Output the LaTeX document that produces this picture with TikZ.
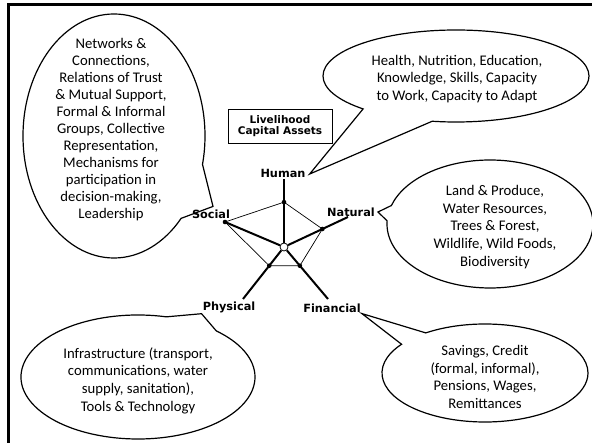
\documentclass[tikz,border=0pt]{standalone}
\usepackage{fontspec}
\setmainfont{Carlito}
\newfontfamily\capfont{DejaVu Sans}
\usetikzlibrary{positioning,shapes.callouts,calc}

\tikzset{
  bubble/.style={ellipse callout, draw=black, line width=1.2pt, inner sep=0pt},
  bubtext/.style={align=center, inner sep=0pt, font=\fontsize{14.7}{17.6}\selectfont},
  capital/.style={inner sep=1pt, font=\capfont\bfseries\fontsize{11.3}{13}\selectfont},
  axis/.style={line width=2pt},
  web/.style={line width=0.7pt},
  dot/.style={circle, fill=black, inner sep=0pt, minimum size=4.6pt},
}

\begin{document}
\begin{tikzpicture}[x=1pt,y=-1pt]
    \useasboundingbox (0,0) rectangle (592,443);

    % Frame
    \draw[line width=3pt] (8,460) -- (8,5) -- (610,5);

    % Title box
    \node[draw, line width=0.8pt, minimum width=104pt, minimum height=34pt, align=center,
          font=\capfont\bfseries\fontsize{10.5}{11.7}\selectfont] (assets) at (280,126)
          {Livelihood\\Capital Assets};

    % Capital labels
    \node[capital] (human) at (283,173) {Human};
    \node[capital] (natural) at (351,212) {Natural};
    \node[capital] (financial) at (332,308) {Financial};
    \node[capital] (physical) at (229,307) {Physical};
    \node[capital] (social) at (211,214) {Social};

    % Pentagon axes
    \node[circle, draw, line width=0.8pt, fill=white, inner sep=0pt, minimum size=8pt] (hub) at (284,247) {};
    \coordinate (humanend) at (284,179);
    \coordinate (naturalend) at (348,217);
    \coordinate (financialend) at (328,299);
    \coordinate (physicalend) at (243,299);
    \coordinate (socialend) at (225,222);

    % Asset values
    \node[dot] (dh) at ($(hub)!.66!(humanend)$) {};
    \node[dot] (dn) at ($(hub)!.60!(naturalend)$) {};
    \node[dot] (df) at ($(hub)!.36!(financialend)$) {};
    \node[dot] (dp) at ($(hub)!.36!(physicalend)$) {};
    \node[dot] (ds) at (socialend) {};
    \draw[web] (dh.center) -- (dn.center) -- (df.center) -- (dp.center) -- (ds.center) -- cycle;

    \foreach \e in {humanend,naturalend,financialend,physicalend,socialend}
        \draw[axis] (hub) -- (\e);

    % Social
    \node[bubble, minimum width=182pt, minimum height=244pt, callout pointer arc=29,
          callout absolute pointer={($(social.north)+(2,-2)$)}] (socialbub) at (114,136) {};
    \node[bubtext, font=\fontsize{14.7}{17}\selectfont] (socialtext) at (111,129.5)
          {Networks \&\\Connections,\\Relations of Trust\\\& Mutual Support,\\Formal \& Informal\\Groups, Collective\\Representation,\\Mechanisms for\\participation in\\decision-making,\\Leadership};

    % Human
    \node[bubble, minimum width=266pt, minimum height=92pt, callout pointer arc=34,
          callout absolute pointer={($(human.east)+(3,1)$)}] (humanbub) at (456,76) {};
    \node[bubtext] (humantext) at (457,79)
          {Health, Nutrition, Education,\\Knowledge, Skills, Capacity\\to Work, Capacity to Adapt};

    % Natural
    \node[bubble, minimum width=206pt, minimum height=128pt, callout pointer arc=14,
          callout absolute pointer={($(natural.east)+(2,0)$)}] (naturalbub) at (490,224) {};
    \node[bubtext] (naturaltext) at (495,227)
          {Land \& Produce,\\Water Resources,\\Trees \& Forest,\\Wildlife, Wild Foods,\\Biodiversity};

    % Financial
    \node[bubble, minimum width=206pt, minimum height=98pt, callout pointer arc=19,
          callout absolute pointer={(financial.south east)}] (financialbub) at (485,373) {};
    \node[bubtext] (financialtext) at (485,377)
          {Savings, Credit\\(formal, informal),\\Pensions, Wages,\\Remittances};

    % Physical
    \node[bubble, minimum width=234pt, minimum height=124pt, callout pointer arc=28,
          callout absolute pointer={(physical.south west)}] (physicalbub) at (138,377) {};
    \node[bubtext] (physicaltext) at (138,380.5)
          {Infrastructure (transport,\\communications, water\\supply, sanitation),\\Tools \& Technology};
\end{tikzpicture}
\end{document}
